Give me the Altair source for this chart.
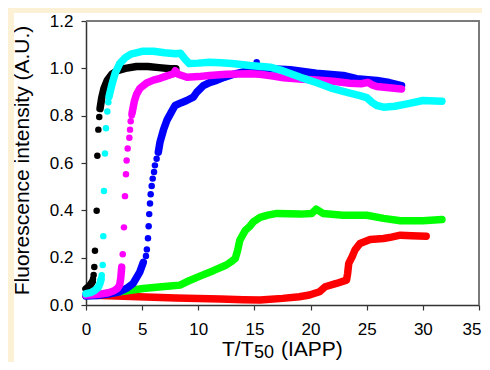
import altair as alt
import pandas as pd

# ---------------- data ----------------
black_seg1_x = [0.0, 0.2, 0.4, 0.55]
black_seg1_y = [0.068, 0.076, 0.086, 0.097]
black_dot_x = [0.62, 0.68, 0.74, 0.80, 0.95, 1.01, 1.10, 1.18]
black_dot_y = [0.110, 0.127, 0.161, 0.229, 0.398, 0.631, 0.741, 0.794]
black_seg2_x = [1.25, 1.4, 1.6, 1.9, 2.3, 2.8, 3.5, 4.5, 5.5, 6.5, 7.5, 8.0]
black_seg2_y = [0.83, 0.875, 0.915, 0.95, 0.975, 0.99, 1.0, 1.008, 1.008, 1.003, 0.998, 0.998]

cyan_seg1_x = [0.0, 0.4, 0.8, 1.1, 1.25, 1.35]
cyan_seg1_y = [0.048, 0.052, 0.062, 0.075, 0.092, 0.11]
cyan_dot_x = [1.40, 1.49, 1.54, 1.60, 1.69, 1.78, 1.90, 1.99]
cyan_dot_y = [0.126, 0.169, 0.291, 0.482, 0.640, 0.747, 0.818, 0.857]
cyan_seg2_x = [2.05, 2.3, 2.6, 3.0, 3.5, 4.0, 5.0, 6.0, 7.0, 8.0, 8.4, 8.8, 9.2, 10, 11, 12, 13,
               14.6, 16.4, 17.5, 19.1, 20.5, 22.0, 23.5, 24.4, 25.0, 25.5, 25.9, 26.5, 27.5, 28.6, 30.0, 31.7]
cyan_seg2_y = [0.88, 0.93, 0.98, 1.02, 1.045, 1.06, 1.072, 1.072, 1.066, 1.062, 1.064, 1.04, 1.02, 1.022, 1.026, 1.024, 1.02,
               1.012, 1.005, 0.99, 0.962, 0.94, 0.914, 0.895, 0.885, 0.876, 0.855, 0.843, 0.836, 0.84, 0.85, 0.864, 0.861]

magenta_seg1_x = [0.0, 0.6, 1.3, 2.0, 2.5, 2.8, 3.0, 3.1, 3.18]
magenta_seg1_y = [0.042, 0.043, 0.046, 0.052, 0.06, 0.07, 0.085, 0.115, 0.16]
magenta_dot_x = [3.27, 3.38, 3.47, 3.56, 3.62, 3.71, 3.86, 3.92, 3.98, 4.07]
magenta_dot_y = [0.214, 0.328, 0.460, 0.552, 0.611, 0.661, 0.707, 0.741, 0.776, 0.801]
magenta_seg2_x = [4.1, 4.3, 4.5, 4.8, 5.4, 6.0, 6.6, 7.2, 7.8, 7.95, 8.2, 9.0, 10, 11, 12.5, 14.6, 15.5,
                  16.5, 17.6, 19, 20.5, 22, 23.5, 24.5, 25.1, 25.5, 25.9, 27, 28.1]
magenta_seg2_y = [0.81, 0.86, 0.89, 0.915, 0.938, 0.95, 0.958, 0.968, 0.977, 0.99, 0.975, 0.962, 0.965, 0.97, 0.975, 0.977, 0.975,
                  0.968, 0.96, 0.955, 0.951, 0.945, 0.937, 0.935, 0.941, 0.93, 0.923, 0.918, 0.913]

blue_seg1_x = [0.0, 1.0, 2.1, 3.0, 3.6, 4.2, 4.8, 5.1]
blue_seg1_y = [0.038, 0.040, 0.047, 0.056, 0.07, 0.091, 0.14, 0.18]
blue_dot_x = [5.34, 5.42, 5.52, 5.58, 5.63, 5.70, 5.76, 5.85, 5.94, 6.06, 6.14, 6.29, 15.2]
blue_dot_y = [0.207, 0.235, 0.282, 0.333, 0.384, 0.429, 0.468, 0.503, 0.534, 0.562, 0.590, 0.618, 1.026]
blue_seg2_x = [6.44, 6.6, 6.9, 7.2, 7.6, 7.93, 8.5, 8.97, 9.56, 9.86, 10.45, 11.0, 11.64, 12.3, 13.1, 14.0,
               14.6, 15.2, 15.8, 16.5, 18.2, 20.5, 22.9, 24.1, 25.9, 27, 28.1]
blue_seg2_y = [0.646, 0.69, 0.74, 0.78, 0.815, 0.843, 0.855, 0.864, 0.878, 0.899, 0.927, 0.94, 0.949, 0.962, 0.974, 0.985,
               0.991, 0.998, 1.0, 0.998, 0.994, 0.979, 0.97, 0.956, 0.949, 0.94, 0.927]

green_seg_x = [0, 1, 2, 3.03, 4, 5.1, 6.5, 7.5, 8.37, 8.97, 10.15, 11.34, 12.5, 13.0, 13.3, 13.5, 13.7, 14.2, 14.6,
               14.9, 15.5, 16.2, 17.0, 19.1, 20.1, 20.5, 21.1, 22.9, 25.0, 26.5, 28.0, 30.0, 31.7]
green_seg_y = [0.04, 0.045, 0.05, 0.056, 0.062, 0.07, 0.076, 0.08, 0.084, 0.098, 0.122, 0.145, 0.169, 0.185, 0.197, 0.23,
               0.274, 0.316, 0.333, 0.351, 0.37, 0.38, 0.387, 0.384, 0.387, 0.405, 0.387, 0.379, 0.379, 0.366, 0.356, 0.356, 0.361]

red_seg_x = [0, 2, 4, 6, 8, 10, 12, 14, 15.5, 17.5, 19, 19.9, 20.8, 21.3, 22.3, 23.2, 23.3, 23.4, 23.7, 23.95,
             24.4, 25.3, 26.5, 27.2, 28.0, 29, 30.3]
red_seg_y = [0.042, 0.039, 0.036, 0.033, 0.03, 0.027, 0.025, 0.022, 0.021, 0.028, 0.035, 0.042, 0.056, 0.077, 0.091,
             0.105, 0.133, 0.176, 0.204, 0.232, 0.26, 0.277, 0.281, 0.287, 0.295, 0.293, 0.291]

x_ticks = [0, 5, 10, 15, 20, 25, 30, 35]
y_ticks = [0.0, 0.2, 0.4, 0.6, 0.8, 1.0, 1.2]

# ---------------- build tables ----------------
def seg_df(segs):
    rows = []
    for s, (xs, ys) in enumerate(segs):
        for i, (x, y) in enumerate(zip(xs, ys)):
            rows.append({"seg": s, "i": i, "x": x, "y": y})
    return pd.DataFrame(rows)

def dot_df(xs, ys):
    return pd.DataFrame({"x": xs, "y": ys})

series = [
    ("#FF0000", [(red_seg_x, red_seg_y)], None),
    ("#00FF00", [(green_seg_x, green_seg_y)], None),
    ("#0000FF", [(blue_seg1_x, blue_seg1_y), (blue_seg2_x, blue_seg2_y)], (blue_dot_x, blue_dot_y)),
    ("#000000", [(black_seg1_x, black_seg1_y), (black_seg2_x, black_seg2_y)], (black_dot_x, black_dot_y)),
    ("#FF00FF", [(magenta_seg1_x, magenta_seg1_y), (magenta_seg2_x, magenta_seg2_y)], (magenta_dot_x, magenta_dot_y)),
    ("#00FFFF", [(cyan_seg1_x, cyan_seg1_y), (cyan_seg2_x, cyan_seg2_y)], (cyan_dot_x, cyan_dot_y)),
]

W, H = 393, 284
FONT = "Liberation Sans"
BEIGE = "#FCF1D4"

xscale = alt.Scale(domain=[0, 35], nice=False, zero=False)
yscale = alt.Scale(domain=[0, 1.2], nice=False, zero=False)
xaxis = alt.Axis(values=x_ticks, title=None, tickSize=5, labelPadding=11, labelFontSize=17,
                 labelFont=FONT, labelColor="black", domainColor="#333333", tickColor="#333333",
                 domainWidth=1.5, tickWidth=1.2, grid=False, labelFlush=False,
                 labelAlign={"condition": {"test": "datum.value == 35", "value": "right"}, "value": "center"},
                 labelOffset={"condition": {"test": "datum.value == 35", "value": 2}, "value": 0})
yaxis = alt.Axis(values=y_ticks, format=".1f", tickSize=5, labelPadding=8, labelFontSize=17,
                 labelFont=FONT, labelColor="black", domainColor="#333333", tickColor="#333333",
                 domainWidth=1.5, tickWidth=1.2, grid=False,
                 title="Fluorescence intensity (A.U.)", titleFont=FONT, titleFontSize=21,
                 titleFontWeight="normal", titleColor="black", titleX=-58, titleY=139,
                 titleAngle=-90, titleAlign="center", titleBaseline="alphabetic", labelFlush=False)

one = pd.DataFrame({"a": [0]})
layers = []
# beige bands of the surrounding figure (top and left)
layers.append(alt.Chart(one).mark_rect(color=BEIGE).encode(
    x=alt.value(-78), x2=alt.value(W + 3), y=alt.value(-13), y2=alt.value(-8)))
layers.append(alt.Chart(one).mark_rect(color=BEIGE).encode(
    x=alt.value(-78), x2=alt.value(-72), y=alt.value(-13), y2=alt.value(H + 57)))

for color, segs, dots in series:
    df = seg_df(segs)
    layers.append(alt.Chart(df).mark_line(color=color, strokeWidth=7.5, strokeCap="round",
                                          strokeJoin="round").encode(
        x=alt.X("x:Q", scale=xscale, axis=xaxis),
        y=alt.Y("y:Q", scale=yscale, axis=yaxis),
        detail="seg:N", order="i:Q"))
    if dots is not None:
        layers.append(alt.Chart(dot_df(*dots)).mark_circle(color=color, size=42, opacity=1).encode(
            x=alt.X("x:Q", scale=xscale, axis=xaxis),
            y=alt.Y("y:Q", scale=yscale, axis=yaxis)))

# top and right frame
layers.append(alt.Chart(one).mark_rule(color="#7a7a7a", strokeWidth=2).encode(
    x=alt.value(0), x2=alt.value(W + 1), y=alt.value(0)))
layers.append(alt.Chart(one).mark_rule(color="#7a7a7a", strokeWidth=2).encode(
    x=alt.value(W), y=alt.value(0), y2=alt.value(H)))

# x axis title with subscript
layers.append(alt.Chart(one).mark_text(text="T/T", font=FONT, fontSize=21, align="left",
                                       baseline="alphabetic", color="black").encode(
    x=alt.value(136), y=alt.value(335)))
layers.append(alt.Chart(one).mark_text(text="50", font=FONT, fontSize=18, align="left",
                                       baseline="alphabetic", color="black").encode(
    x=alt.value(168), y=alt.value(337)))
layers.append(alt.Chart(one).mark_text(text="(IAPP)", font=FONT, fontSize=21, align="left",
                                       baseline="alphabetic", color="black").encode(
    x=alt.value(195), y=alt.value(335)))

chart = alt.layer(*layers).properties(
    width=W, height=H, background="white",
    padding={"left": 78, "top": 13, "right": 3, "bottom": 57},
    autosize=alt.AutoSizeParams(type="none"),
).configure_view(stroke=None)

chart.save("out.html", embed_options={"renderer": "svg", "actions": False})
